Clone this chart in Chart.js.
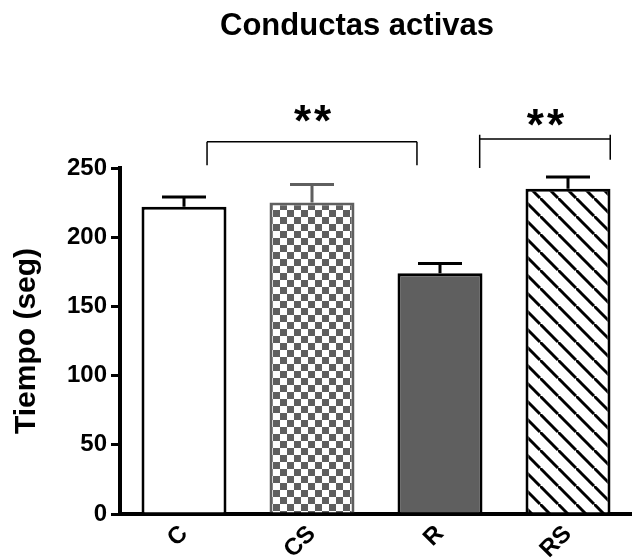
<!DOCTYPE html>
<html>
<head>
<meta charset="utf-8">
<script src="https://cdn.jsdelivr.net/npm/chart.js@4/dist/chart.umd.min.js"></script>
<style>
  body { margin: 0; background: #fff; }
  canvas { display: block; }
</style>
</head>
<body>
<canvas id="chart" width="632" height="559"></canvas>
<script>
const groups = ['C', 'CS', 'R', 'RS'];
const means = [222, 225, 174, 235];
const errTops = [229, 238, 181, 243.5];
const yTicks = [0, 50, 100, 150, 200, 250];

// significance brackets, in category index / y value units
const bracketFrom = [0.18, 2.31];
const bracketTo = [1.82, 3.33];
const bracketY = [269, 271];
const bracketDropL = [252, 250];
const bracketDropR = [252, 256];
const bracketRise = [269, 274];
const starY = [273, 270];
const starText = ['**', '**'];

const FONT = '"Liberation Sans", Arial, sans-serif';
const GRAY = '#5f5f5f';

function checker() {
  const c = document.createElement('canvas');
  c.width = 14; c.height = 14;
  const g = c.getContext('2d');
  g.fillStyle = GRAY; g.fillRect(0, 0, 14, 14);
  g.fillStyle = '#fff';
  g.fillRect(0, 0, 7, 7);
  g.fillRect(7, 7, 7, 7);
  return g.createPattern(c, 'repeat');
}

function hatch() {
  const s = 18;
  const c = document.createElement('canvas');
  c.width = s; c.height = s;
  const g = c.getContext('2d');
  g.fillStyle = '#fff'; g.fillRect(0, 0, s, s);
  g.strokeStyle = '#000'; g.lineWidth = 3;
  [[-s, 0, 0, s], [0, 0, s, s], [0, -s, s, 0]].forEach(l => {
    g.beginPath(); g.moveTo(l[0], l[1]); g.lineTo(l[2], l[3]); g.stroke();
  });
  return g.createPattern(c, 'repeat');
}

const fills = ['#ffffff', checker(), GRAY, hatch()];
const borders = ['#000', GRAY, '#000', '#000'];

const errorBars = {
  id: 'errorBars',
  afterDatasetsDraw(chart) {
    const ctx = chart.ctx;
    const y = chart.scales.y;
    const meta = chart.getDatasetMeta(0);
    ctx.save();
    ctx.lineWidth = 3;
    meta.data.forEach((bar, i) => {
      const top = y.getPixelForValue(errTops[i]);
      ctx.strokeStyle = borders[i];
      ctx.beginPath();
      ctx.moveTo(bar.x, bar.y);
      ctx.lineTo(bar.x, top);
      ctx.moveTo(bar.x - 22, top);
      ctx.lineTo(bar.x + 22, top);
      ctx.stroke();
    });
    ctx.restore();
  }
};

const annotations = {
  id: 'annotations',
  afterDraw(chart) {
    const ctx = chart.ctx;
    const x = chart.scales.x, y = chart.scales.y;
    ctx.save();
    ctx.strokeStyle = '#000';
    ctx.lineWidth = 1.5;
    bracketFrom.forEach((f, i) => {
      const x1 = x.getPixelForValue(f), x2 = x.getPixelForValue(bracketTo[i]);
      const yb = y.getPixelForValue(bracketY[i]);
      const yr = y.getPixelForValue(bracketRise[i]);
      ctx.beginPath();
      ctx.moveTo(x1, y.getPixelForValue(bracketDropL[i]));
      ctx.lineTo(x1, yr);
      ctx.moveTo(x1, yb);
      ctx.lineTo(x2, yb);
      ctx.moveTo(x2, yr);
      ctx.lineTo(x2, y.getPixelForValue(bracketDropR[i]));
      ctx.stroke();
      ctx.fillStyle = '#000';
      ctx.font = 'bold 44px ' + FONT;
      ctx.letterSpacing = '3px';
      ctx.textAlign = 'center';
      ctx.textBaseline = 'alphabetic';
      ctx.fillText(starText[i], (x1 + x2) / 2 + 2, y.getPixelForValue(starY[i]));
    });
    ctx.letterSpacing = '0px';
    ctx.font = 'bold 31px ' + FONT;
    ctx.textAlign = 'center';
    ctx.textBaseline = 'middle';
    ctx.fillText('Conductas activas', 357, 26);
    ctx.restore();
  }
};

new Chart(document.getElementById('chart'), {
  type: 'bar',
  data: {
    labels: groups,
    datasets: [{
      data: means,
      backgroundColor: fills,
      borderColor: borders,
      borderWidth: 3,
      barPercentage: 0.664,
      categoryPercentage: 1
    }]
  },
  options: {
    responsive: false,
    animation: false,
    devicePixelRatio: 1,
    layout: { padding: { top: 168, left: 0, right: 0, bottom: 0 } },
    plugins: { legend: { display: false }, tooltip: { enabled: false } },
    scales: {
      x: {
        afterFit(s) { s.height = 45; },
        grid: { display: false },
        border: { color: '#000', width: 4 },
        ticks: {
          color: '#000',
          font: { family: FONT, size: 24, weight: 'bold' },
          minRotation: 45, maxRotation: 45,
          padding: -2
        }
      },
      y: {
        min: 0, max: 250,
        afterFit(s) { s.width = 120; },
        afterBuildTicks(s) { s.ticks = yTicks.map(v => ({ value: v })); },
        grid: { drawOnChartArea: false, color: '#000', lineWidth: 3, tickLength: 9 },
        border: { color: '#000', width: 4 },
        ticks: {
          color: '#000',
          padding: 4,
          font: { family: FONT, size: 24, weight: 'bold' }
        },
        title: {
          display: true,
          text: 'Tiempo (seg)',
          color: '#000',
          font: { family: FONT, size: 30, weight: 'bold' },
          padding: { top: 9, bottom: 0 }
        }
      }
    }
  },
  plugins: [errorBars, annotations]
});
</script>
</body>
</html>
